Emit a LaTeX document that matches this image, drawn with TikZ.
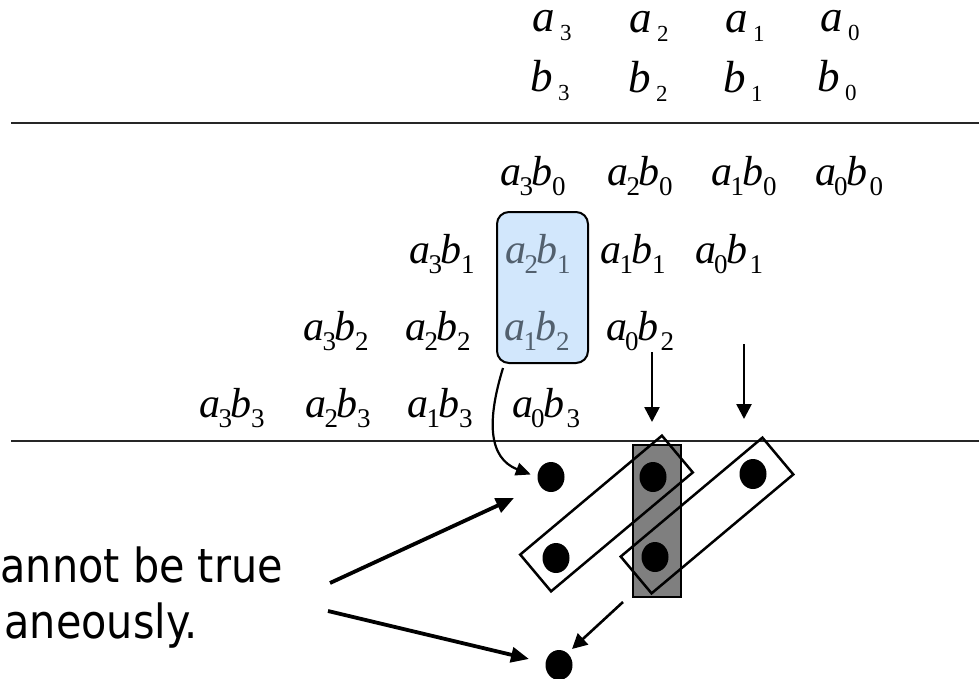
\documentclass[tikz,border=0pt]{standalone}
\usepackage{fontspec}
\setmainfont{Liberation Serif}
\newfontfamily\tah[FakeStretch=0.88]{DejaVu Sans}
\usetikzlibrary{arrows.meta,shapes.geometric}
\definecolor{boxblue}{HTML}{D2E7FC}
\definecolor{termgray}{HTML}{52606E}
\definecolor{rectgray}{HTML}{7F7F7F}
\newcommand\sbs[1]{\raisebox{-0.25em}{\fontsize{27}{27}\selectfont #1}}
\newcommand\prd[2]{\textit{a}\kern-2pt\sbs{#1}\kern-1.5pt\textit{b}\kern-0.5pt\sbs{#2}}
\newcommand\prdz[2]{\textit{a}\kern-2pt\sbs{#1}\kern-1.5pt\textit{b}\kern2.5pt\sbs{#2}}
\newcommand\tv[2]{\textit{#1}\kern5pt\raisebox{-9pt}{\fontsize{23}{23}\selectfont #2}}
\begin{document}
\begin{tikzpicture}[x=1pt,y=-1pt,
  term/.style={inner sep=0pt, font=\fontsize{42}{42}\selectfont},
  topterm/.style={inner sep=0pt, font=\fontsize{45}{45}\selectfont},
  dotn/.style={ellipse, fill=black, minimum width=27pt, minimum height=30pt, inner sep=0pt},
  slant/.style={draw, line width=2.5pt, minimum width=185pt, minimum height=48pt, rotate=40, inner sep=0pt},
  rulel/.style={line width=2.3pt, draw=black!85},
  bigarrow/.style={line width=3.8pt, -{Triangle[length=18pt,width=15pt]}},
  midarrow/.style={line width=2.6pt, -{Triangle[length=15pt,width=15pt]}},
  thinarrow/.style={line width=2.2pt, -{Triangle[length=15pt,width=13pt]}}]
\useasboundingbox (0,0) rectangle (979,679);
\fill[white] (0,0) rectangle (979,679);

% top operands
\node[topterm] (a3) at (552,26) {\tv{a}{3}};
\node[topterm] (a2) at (649,26) {\tv{a}{2}};
\node[topterm] (a1) at (745,26) {\tv{a}{1}};
\node[topterm] (a0) at (840,26) {\tv{a}{0}};
\node[topterm] (b3) at (550,81) {\tv{b}{3}};
\node[topterm] (b2) at (648,81) {\tv{b}{2}};
\node[topterm] (b1) at (743,81) {\tv{b}{1}};
\node[topterm] (b0) at (837,81) {\tv{b}{0}};

% rules
\coordinate (r1l) at (11,123); \coordinate (r1r) at (979,123);
\coordinate (r2l) at (11,441); \coordinate (r2r) at (979,441);
\draw[rulel] (r1l) -- (r1r);
\draw[rulel] (r2l) -- (r2r);

% highlight box
\node[draw, line width=2pt, fill=boxblue, rounded corners=12pt,
      minimum width=91pt, minimum height=151pt, inner sep=0pt] (box) at (542.5,287.5) {};

% partial products
\node[term] (p30) at (533,176) {\prd{3}{0}};
\node[term] (p20) at (640,176) {\prd{2}{0}};
\node[term] (p10) at (744,176) {\prd{1}{0}};
\node[term] (p00) at (849,176) {\prdz{0}{0}};
\node[term] (p31) at (442,254) {\prd{3}{1}};
\node[term, text=termgray] (p21) at (538,254) {\prd{2}{1}};
\node[term] (p11) at (633,254) {\prd{1}{1}};
\node[term] (p01) at (729,254) {\prdz{0}{1}};
\node[term] (p32) at (336,331) {\prd{3}{2}};
\node[term] (p22) at (438,331) {\prd{2}{2}};
\node[term, text=termgray] (p12) at (537,331) {\prd{1}{2}};
\node[term] (p02) at (640,331) {\prdz{0}{2}};
\node[term] (p33) at (232,408) {\prd{3}{3}};
\node[term] (p23) at (338,408) {\prd{2}{3}};
\node[term] (p13) at (440,408) {\prd{1}{3}};
\node[term] (p03) at (546,408) {\prdz{0}{3}};

% lower structure
\node[draw, line width=2.5pt, fill=rectgray, minimum width=48pt, minimum height=152pt, inner sep=0pt] (gr) at (657,521) {};
\node[slant] (s1) at (606.5,513.5) {};
\node[slant] (s2) at (707,515.5) {};

\node[dotn] (d1) at (551,477) {};
\node[dotn] (d2) at (653,477) {};
\node[dotn] (d3) at (753,474) {};
\node[dotn] (d4) at (556,558) {};
\node[dotn] (d5) at (655,557) {};
\node[dotn] (d6) at (559,665) {};

% vertical arrows
\coordinate (v1s) at (652,352); \coordinate (v1e) at (652,422);
\coordinate (v2s) at (744,344); \coordinate (v2e) at (744,419);
\draw[midarrow] (v1s) -- (v1e);
\draw[midarrow] (v2s) -- (v2e);

% curved arrow from box
\coordinate (cs) at (503,368);
\draw[thinarrow, shorten >=7pt] (cs) .. controls (487,420) and (488,458) .. (d1.west);

% arrow from gray rect to bottom dot
\coordinate (gs) at (623,602); \coordinate (ge) at (572,649);
\draw[midarrow] (gs) -- (ge);

% left text
\node[anchor=base east, inner sep=0pt, font=\tah\fontsize{47}{47}\selectfont] (t1) at (283,582) {annot be true};
\node[anchor=base east, inner sep=0pt, font=\tah\fontsize{47}{47}\selectfont] (t2) at (198,638) {aneously.};

\coordinate (l1s) at (330,583); \coordinate (l1e) at (514,498);
\coordinate (l2s) at (328,611); \coordinate (l2e) at (529,659);
\draw[bigarrow] (l1s) -- (l1e);
\draw[bigarrow] (l2s) -- (l2e);
\end{tikzpicture}
\end{document}
